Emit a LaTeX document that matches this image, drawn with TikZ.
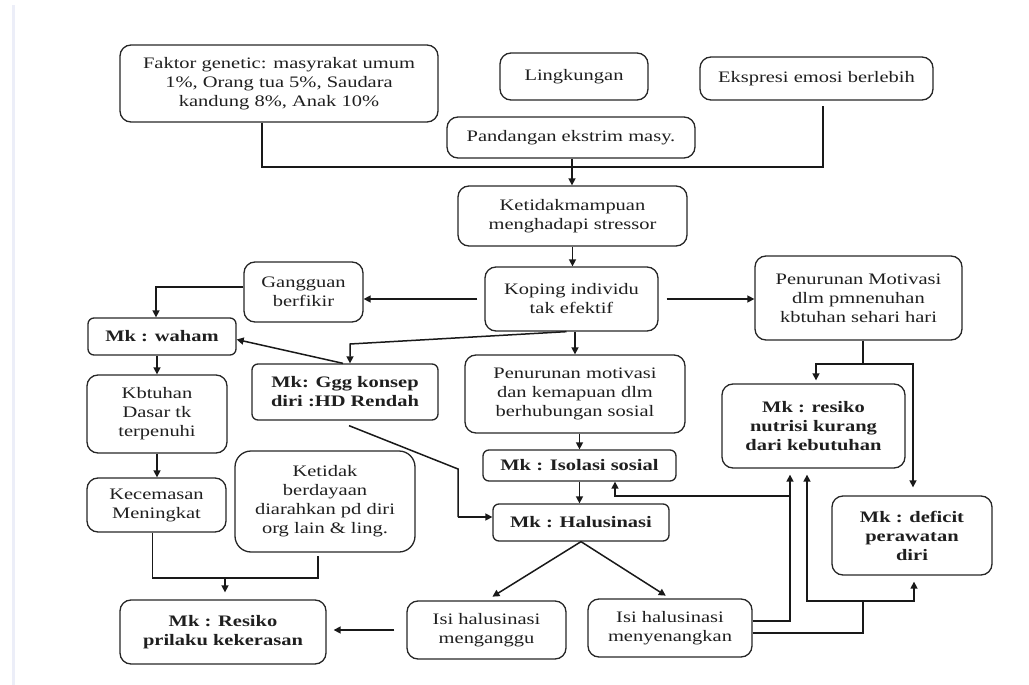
\documentclass[tikz,border=0pt]{standalone}
\usepackage{fontspec}
\setmainfont{Liberation Serif}[FakeStretch=1.28]
\usetikzlibrary{arrows.meta}
\definecolor{edgerule}{RGB}{236,238,248}
\begin{document}
\begin{tikzpicture}[x=1pt,y=-1pt,
  box/.style={draw=black!85, line width=1.3pt, rounded corners=11pt, align=center,
    inner sep=0pt, text=black!88, font=\fontsize{16}{19}\selectfont},
  sbox/.style={box, rounded corners=6pt},
  conn/.style={draw=black!90, line width=1.5pt},
  arr/.style={conn, -{Triangle[length=7pt,width=7pt]}}]
\useasboundingbox (0,0) rectangle (1029,685);

% faint page edge on the left
\draw[edgerule, line width=3pt] (13,5) -- (13,685);

% top row
\node[box, minimum width=318pt, minimum height=77pt] (faktor) at (279,83.5)
  {Faktor genetic: masyrakat umum\\1\%, Orang tua 5\%, Saudara\\kandung 8\%, Anak 10\%};
\node[box, minimum width=148pt, minimum height=47pt] (ling) at (574,76.5) {Lingkungan};
\node[box, minimum width=233pt, minimum height=43pt] (ekspr) at (816.5,78.5) {Ekspresi emosi berlebih};
\node[box, minimum width=248pt, minimum height=41pt] (pand) at (571,137.5) {Pandangan ekstrim masy.};

% central chain
\node[box, minimum width=229pt, minimum height=60pt] (ketidak) at (572.5,216)
  {Ketidakmampuan\\menghadapi stressor};
\node[box, minimum width=173pt, minimum height=64pt] (koping) at (571.5,299)
  {Koping individu\\tak efektif};
\node[box, minimum width=207pt, minimum height=84pt] (pm) at (858.5,298)
  {Penurunan Motivasi\\dlm pmnenuhan\\kbtuhan sehari hari};
\node[box, minimum width=119pt, minimum height=60pt] (ganggu) at (303.5,292)
  {Gangguan\\berfikir};

% left column
\node[sbox, minimum width=148pt, minimum height=37pt] (waham) at (162,336.5) {\textbf{Mk : waham}};
\node[sbox, minimum width=186pt, minimum height=56pt] (ggg) at (345,392)
  {\textbf{Mk: Ggg konsep}\\\textbf{diri :HD Rendah}};
\node[box, minimum width=140pt, minimum height=78pt] (kbtuhan) at (157,414)
  {Kbtuhan\\Dasar tk\\terpenuhi};
\node[box, minimum width=139pt, minimum height=54pt] (kecem) at (156.5,505)
  {Kecemasan\\Meningkat};
\node[box, rounded corners=16pt, minimum width=180pt, minimum height=101pt] (berdaya) at (325,501.5)
  {Ketidak\\berdayaan\\diarahkan pd diri\\org lain \& ling.};
\node[box, minimum width=206pt, minimum height=64pt] (resiko) at (223,632)
  {\textbf{Mk : Resiko}\\\textbf{prilaku kekerasan}};

% middle column
\node[box, minimum width=220pt, minimum height=78pt] (pms) at (575,394)
  {Penurunan motivasi\\dan kemapuan dlm\\berhubungan sosial};
\node[sbox, minimum width=193pt, minimum height=31pt] (isolasi) at (579.5,465.5) {\textbf{Mk : Isolasi sosial}};
\node[sbox, minimum width=176pt, minimum height=37pt] (halu) at (581,522.5) {\textbf{Mk : Halusinasi}};
\node[box, minimum width=159pt, minimum height=58pt] (angg) at (486.5,630)
  {Isi halusinasi\\menganggu};
\node[box, minimum width=164pt, minimum height=58pt] (senang) at (670,628)
  {Isi halusinasi\\menyenangkan};

% right column
\node[box, minimum width=183pt, minimum height=84pt] (nutrisi) at (813.5,426)
  {\textbf{Mk : resiko}\\\textbf{nutrisi kurang}\\\textbf{dari kebutuhan}};
\node[box, minimum width=160pt, minimum height=79pt] (deficit) at (912,535.5)
  {\textbf{Mk : deficit}\\\textbf{perawatan}\\\textbf{diri}};

% junction points
\coordinate (jl) at (262,167);
\coordinate (jr) at (823,167);
\coordinate (jn) at (572,167);
\coordinate (kg) at (350,344);
\coordinate (gb) at (458,469);
\coordinate (gh) at (458,517);
\coordinate (kr) at (225,578);
\coordinate (pj) at (863,364);
\coordinate (pl) at (816,364);
\coordinate (v1) at (790,496);
\coordinate (v2) at (615,496);
\coordinate (h1) at (863,601);
\coordinate (h2) at (807,601);
\coordinate (h3) at (914,601);

% causes merging into the central chain
\draw[conn] (jl |- faktor.south) -- (jl) -- (jr) -- ([yshift=-5pt]jr |- ekspr.south);
\draw[conn] (jn |- pand.south) -- (jn);
\draw[arr] (jn) -- (jn |- ketidak.north);
\draw[arr] (ketidak.south) -- (ketidak.south |- koping.north);

% out of the coping box
\draw[arr, shorten <=7pt] (koping.west) -- (koping.west -| ganggu.east);
\draw[arr, shorten <=8pt] (koping.east) -- (koping.east -| pm.west);
\draw[arr] ([yshift=5pt]ganggu.west) -| ([xshift=-6pt]waham.north);
\draw[arr] ([xshift=-5pt]koping.south) -- (kg) -- (kg |- ggg.north);
\draw[arr] ([xshift=-2pt]ggg.north) -- ([yshift=-3pt]waham.east);
\draw[arr] (koping.south -| pms.north) -- (pms.north);

% left column
\draw[arr] (kbtuhan.north |- waham.south) -- (kbtuhan.north);
\draw[arr] (kbtuhan.south) -- (kbtuhan.south |- kecem.north);
\draw[conn] ([xshift=-4pt]kecem.south) |- (kr) -| ([xshift=-7pt,yshift=-3pt]berdaya.south);
\draw[arr, shorten >=7pt] (kr) -- (kr |- resiko.north);

% middle column
\draw[arr] (isolasi.north |- pms.south) -- (isolasi.north);
\draw[arr] (isolasi.south) -- (isolasi.south |- halu.north);
\draw[conn] ([xshift=4pt,yshift=-5pt]ggg.south) -- (gb) -- (gh);
\draw[arr] (gh) -- (gh -| halu.west);
\draw[arr, shorten >=7pt] (halu.south) -- (angg.north);
\draw[arr, shorten >=5pt] (halu.south) -- (senang.north);
\draw[arr, shorten <=12pt, shorten >=7pt] (angg.west) -- (angg.west -| resiko.east);

% right column
\draw[conn] ([xshift=4.5pt]pm.south) -- (pj);
\draw[arr, shorten >=3pt] (pj) -- (pl) -- (pl |- nutrisi.north);
\draw[arr, shorten >=8pt] (pj) -| ([xshift=1pt]deficit.north);
\draw[arr, shorten >=6pt] ([yshift=7pt]senang.east) -| (v1 |- nutrisi.south);
\draw[arr] (v1) -- (v2) -- (v2 |- isolasi.south);
\draw[conn] ([yshift=-5pt]senang.east) -| (h1);
\draw[arr, shorten >=6pt] (h1) -- (h2) -- (h2 |- nutrisi.south);
\draw[arr, shorten >=6pt] (h1) -- (h3) -- (h3 |- deficit.south);
\end{tikzpicture}
\end{document}
